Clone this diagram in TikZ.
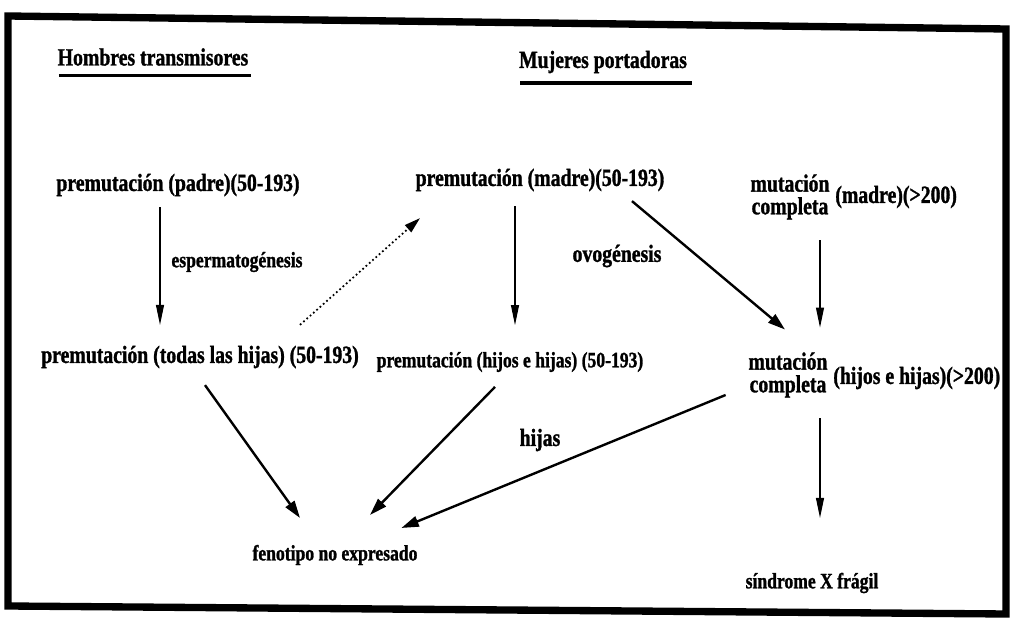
\documentclass[tikz,border=0pt]{standalone}
\usepackage{fontspec}
\setmainfont{Liberation Serif}
\newfontfamily\condfont{Liberation Serif Bold}[FakeStretch=0.8,FakeBold=1.2]
\usetikzlibrary{arrows.meta,calc}
\begin{document}
\begin{tikzpicture}[x=0.75pt,y=-0.75pt,
  lbl/.style={font=\condfont\fontsize{18.5}{17}\selectfont, inner sep=2pt, align=center},
  small/.style={lbl, font=\condfont\fontsize{16.5}{17}\selectfont},
  thinarr/.style={line width=0.8pt, -{Triangle[length=15pt,width=6pt]}},
  thickarr/.style={line width=1.8pt, -{Triangle[length=13pt,width=8pt]}},
  dotarr/.style={line width=1.3pt, dotted, -{Triangle[length=12pt,width=7pt]}},
  uline/.style={line width=2.6pt},
  frame/.style={line width=5.5pt, line join=miter}]
\useasboundingbox (0,0) rectangle (1015,634);
% frame
\draw[frame] (8,16) -- (1006,29) -- (1006,614) -- (8,606) -- cycle;
% headings
\node[lbl] (hom) at (153,57) {Hombres transmisores};
\node[lbl] (muj) at (603,62) {Mujeres portadoras};
\draw[uline] ($(hom.south west)+(4,7)$) -- ($(hom.south east)+(0,7)$);
\draw[uline] ($(muj.south west)+(4,7)$) -- ($(muj.south east)+(2,7)$);
% nodes
\node[lbl] (padre) at (178,185) {premutación (padre)(50-193)};
\node[small] (esperm) at (237,262) {espermatogénesis};
\node[lbl] (todas) at (200,357) {premutación (todas las hijas) (50-193)};
\node[lbl] (madre) at (540,180) {premutación (madre)(50-193)};
\node[lbl] (ovo) at (617,256) {ovogénesis};
\node[small] (hyh) at (510,362) {premutación (hijos e hijas) (50-193)};
\node[lbl] (mcm1) at (790,197) {mutación\\completa};
\node[lbl, anchor=west] (mcm2) at (mcm1.east) {(madre)(>200)};
\node[lbl] (mch1) at (788,375) {mutación\\completa};
\node[lbl, anchor=west] (mch2) at ($(mch1.east)+(0,3)$) {(hijos e hijas)(>200)};
\node[lbl] (hijas) at (540,440) {hijas};
\node[small] (fen) at (335,555) {fenotipo no expresado};
\node[small] (sxf) at (812,583) {síndrome X frágil};
% connectors
\draw[thinarr] ($(padre.south)+(-18,8)$) -- ($(todas.north)+(-40,-18)$);
\draw[dotarr] ($(todas.north)+(100,-18)$) -- ($(madre.south)+(-120,24)$);
\draw[thinarr] ($(madre.south)+(-25,12)$) -- ($(hyh.north)+(5,-24)$);
\draw[thickarr] ($(madre.south)+(92,7)$) -- ($(mch1.north)+(-3,-20)$);
\draw[thinarr] ($(mcm1.south)+(30,18)$) -- ($(mch1.north)+(32,-22)$);
\draw[thickarr] ($(todas.south)+(5,14)$) -- ($(fen.north)+(-35,-24)$);
\draw[thickarr] ($(hyh.south)+(-15,12)$) -- ($(fen.north)+(35,-27)$);
\draw[thickarr] ($(mch1.west)+(-20,20)$) -- ($(fen.north east)+(-19,-14)$);
\draw[thinarr] ($(mch1.south)+(32,18)$) -- ($(sxf.north)+(8,-52)$);
\end{tikzpicture}
\end{document}
